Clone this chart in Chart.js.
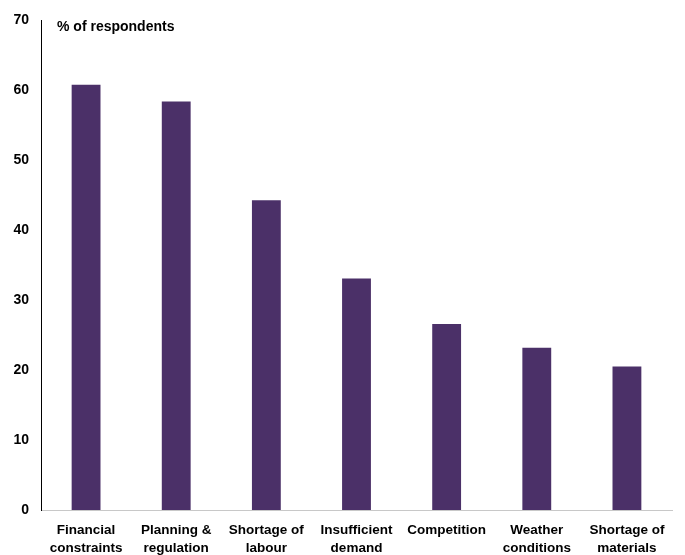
<!DOCTYPE html>
<html>
<head>
<meta charset="utf-8">
<script src="https://cdn.jsdelivr.net/npm/chart.js@4.4.0/dist/chart.umd.min.js"></script>
<style>
  body { margin: 0; background: #ffffff; }
  #wrap { width: 685px; height: 555px; position: relative; }
</style>
</head>
<body>
<div id="wrap"><canvas id="myChart"></canvas></div>
<script>
const categories = [
  ["Financial", "constraints"],
  ["Planning &", "regulation"],
  ["Shortage of", "labour"],
  ["Insufficient", "demand"],
  ["Competition"],
  ["Weather", "conditions"],
  ["Shortage of", "materials"],
];

const respondents = [60.8, 58.4, 44.3, 33.1, 26.6, 23.2, 20.5];

const yTicks = [0, 10, 20, 30, 40, 50, 60, 70];

const barColor = "#4b3068";
const fontFamily = "'Liberation Sans Narrow', 'Liberation Sans', Arial, sans-serif";

// Draws the unit label inside the plot area, top left
const unitLabel = {
  id: "unitLabel",
  afterDraw: (chart) => {
    const { ctx, chartArea } = chart;
    ctx.save();
    ctx.font = `bold 14px ${fontFamily}`;
    ctx.fillStyle = "#000000";
    ctx.textBaseline = "middle";
    ctx.fillText("% of respondents", chartArea.left + 16, chartArea.top + 7);
    ctx.restore();
  },
};

const ctx = document.getElementById("myChart");

new Chart(ctx, {
  type: "bar",
  data: {
    labels: categories,
    datasets: [
      {
        label: "% of respondents",
        data: respondents,
        backgroundColor: barColor,
        categoryPercentage: 1,
        barPercentage: 0.32,
      },
    ],
  },
  options: {
    responsive: true,
    maintainAspectRatio: false,
    animation: false,
    layout: {
      padding: { top: 14, right: 13, left: 0, bottom: 0 },
    },
    plugins: {
      legend: { display: false },
      tooltip: { enabled: false },
    },
    scales: {
      x: {
        afterFit: (axis) => {
          axis.height = 45;
        },
        grid: { display: false, drawTicks: false },
        border: { color: "#c8c8c8", width: 1 },
        ticks: {
          color: "#000000",
          maxRotation: 0,
          autoSkip: false,
          padding: 11,
          font: { family: fontFamily, size: 13.5, weight: "bold", lineHeight: "18px" },
        },
      },
      y: {
        min: 0,
        max: 70,
        afterBuildTicks: (axis) => {
          axis.ticks = yTicks.map((value) => ({ value }));
        },
        afterFit: (axis) => {
          axis.width = 41;
        },
        grid: { display: false, drawTicks: false },
        border: { color: "#000000", width: 1 },
        ticks: {
          color: "#000000",
          padding: 12,
          font: { family: fontFamily, size: 14, weight: "bold" },
        },
      },
    },
  },
  plugins: [unitLabel],
});
</script>
</body>
</html>
